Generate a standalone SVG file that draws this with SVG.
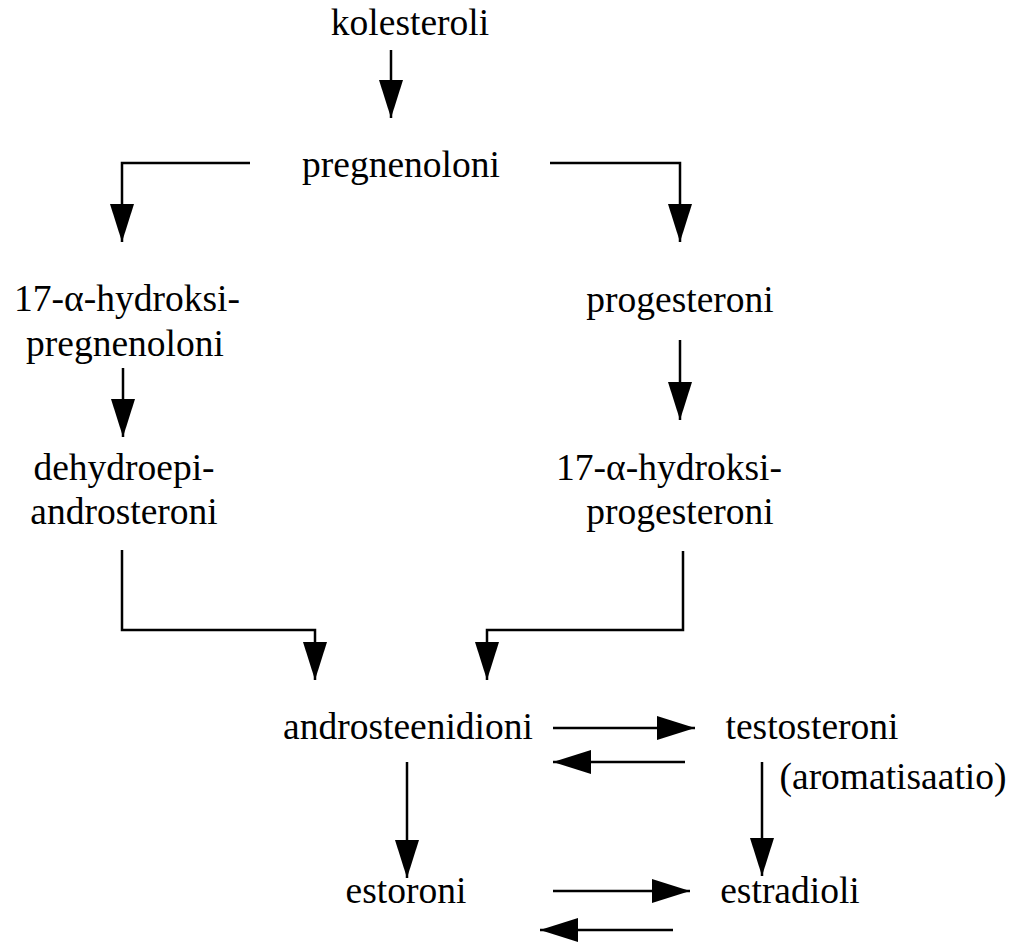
<svg xmlns="http://www.w3.org/2000/svg" width="1019" height="949" viewBox="0 0 1019 949">
<defs>
<marker id="ah" markerUnits="userSpaceOnUse" markerWidth="40" markerHeight="26" refX="38" refY="12" orient="auto">
<path d="M0,0 L38,12 L0,24 z" fill="#000"/>
</marker>
<style>
text{font-family:"Liberation Serif","Times New Roman",serif;font-size:37.5px;fill:#000;text-anchor:middle}
.c{fill:none;stroke:#000;stroke-width:2.5}
</style>
</defs>
<rect width="1019" height="949" fill="#fff"/>
<g id="connectors">
<path class="c" d="M391,50 V118" marker-end="url(#ah)"/>
<path class="c" d="M250,163 H122 V242" marker-end="url(#ah)"/>
<path class="c" d="M550,163 H680 V242" marker-end="url(#ah)"/>
<path class="c" d="M123,368 V437" marker-end="url(#ah)"/>
<path class="c" d="M680,340 V420" marker-end="url(#ah)"/>
<path class="c" d="M122,550 V630 H315 V680" marker-end="url(#ah)"/>
<path class="c" d="M683,551 V630 H487 V680" marker-end="url(#ah)"/>
<path class="c" d="M553,728 H695" marker-end="url(#ah)"/>
<path class="c" d="M685,762 H553" marker-end="url(#ah)"/>
<path class="c" d="M407,762 V878" marker-end="url(#ah)"/>
<path class="c" d="M762,762 V876" marker-end="url(#ah)"/>
<path class="c" d="M553,891 H690" marker-end="url(#ah)"/>
<path class="c" d="M673,930 H540" marker-end="url(#ah)"/>
</g>
<g id="kolesteroli"><text x="410" y="35">kolesteroli</text></g>
<g id="pregnenoloni"><text x="401" y="177">pregnenoloni</text></g>
<g id="hydroksipregnenoloni"><text x="127" y="311">17-α-hydroksi-</text><text x="125" y="356">pregnenoloni</text></g>
<g id="progesteroni"><text x="680" y="312">progesteroni</text></g>
<g id="dhea"><text x="124" y="480">dehydroepi-</text><text x="124" y="524">androsteroni</text></g>
<g id="hydroksiprogesteroni"><text x="669" y="480">17-α-hydroksi-</text><text x="680" y="524">progesteroni</text></g>
<g id="androsteenidioni"><text x="408" y="739">androsteenidioni</text></g>
<g id="testosteroni"><text x="812" y="739">testosteroni</text></g>
<g id="aromatisaatio"><text x="893" y="789">(aromatisaatio)</text></g>
<g id="estoroni"><text x="406" y="903">estoroni</text></g>
<g id="estradioli"><text x="790" y="903">estradioli</text></g>
</svg>
